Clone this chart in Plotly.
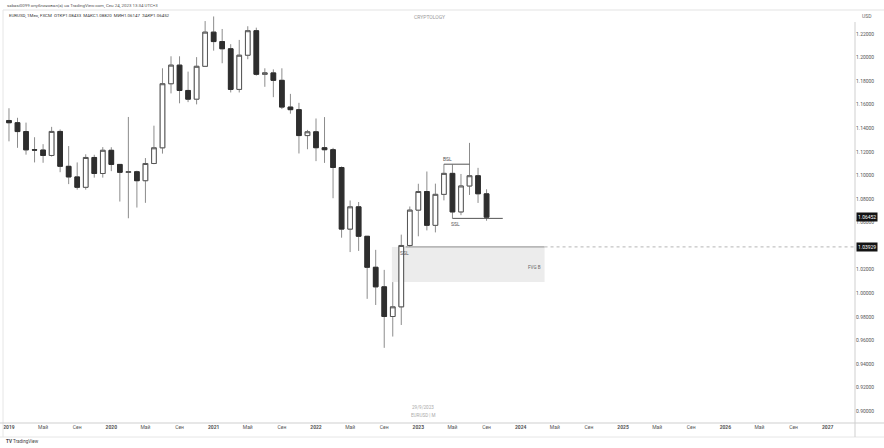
import plotly.graph_objects as go

# ---------------- data ----------------
months = [f"{y}-{m:02d}" for y in range(2019, 2024) for m in range(1, 13)][:57]

opens = [1.1466, 1.1447, 1.1372, 1.1217, 1.1215, 1.1169, 1.1373, 1.1077, 1.0987, 1.0899, 1.1152, 1.1016,
         1.1213, 1.1093, 1.1026, 1.1031, 1.0955, 1.1101, 1.1234, 1.1778, 1.1936, 1.1721, 1.1647, 1.1926,
         1.2216, 1.2136, 1.2075, 1.1730, 1.2020, 1.2228, 1.1858, 1.1870, 1.1807, 1.1580, 1.1558, 1.1338,
         1.1370, 1.1235, 1.1218, 1.1067, 1.0544, 1.0733, 1.0483, 1.0220, 1.0054, 0.9802, 0.9884, 1.0405,
         1.0705, 1.0863, 1.0576, 1.0839, 1.1017, 1.0690, 1.0910, 1.0997, 1.08433]
highs = [1.1570, 1.1489, 1.1448, 1.1324, 1.1265, 1.1412, 1.1390, 1.1249, 1.1110, 1.1179, 1.1175, 1.1240,
         1.1239, 1.1096, 1.1496, 1.1040, 1.1147, 1.1422, 1.1909, 1.2011, 1.2011, 1.1881, 1.2004, 1.2310,
         1.2349, 1.2243, 1.2114, 1.2150, 1.2266, 1.2254, 1.1909, 1.1900, 1.1909, 1.1692, 1.1616, 1.1386,
         1.1483, 1.1495, 1.1234, 1.1076, 1.0787, 1.0774, 1.0486, 1.0368, 1.0198, 1.0094, 1.0497, 1.0736,
         1.0929, 1.1033, 1.0930, 1.1095, 1.1092, 1.1012, 1.1276, 1.1064, 1.08820]
lows = [1.1289, 1.1234, 1.1176, 1.1110, 1.1107, 1.1160, 1.1027, 1.0926, 1.0879, 1.0879, 1.0981, 1.0981,
        1.1036, 1.0778, 1.0636, 1.0727, 1.0767, 1.1095, 1.1185, 1.1696, 1.1612, 1.1622, 1.1603, 1.1924,
        1.2059, 1.1952, 1.1704, 1.1704, 1.1986, 1.1847, 1.1752, 1.1664, 1.1563, 1.1524, 1.1186, 1.1222,
        1.1121, 1.1106, 1.0806, 1.0471, 1.0349, 1.0359, 0.9952, 0.9900, 0.9536, 0.9632, 0.9730, 1.0393,
        1.0483, 1.0533, 1.0516, 1.0788, 1.0635, 1.0662, 1.0834, 1.0766, 1.06147]
closes = [1.1447, 1.1372, 1.1217, 1.1215, 1.1169, 1.1373, 1.1077, 1.0987, 1.0899, 1.1152, 1.1016, 1.1213,
          1.1093, 1.1026, 1.1031, 1.0955, 1.1101, 1.1234, 1.1778, 1.1936, 1.1721, 1.1647, 1.1926, 1.2216,
          1.2136, 1.2075, 1.1730, 1.2020, 1.2228, 1.1858, 1.1870, 1.1807, 1.1580, 1.1558, 1.1338, 1.1370,
          1.1235, 1.1218, 1.1067, 1.0544, 1.0733, 1.0483, 1.0220, 1.0054, 0.9802, 0.9884, 1.0405, 1.0705,
          1.0863, 1.0576, 1.0839, 1.1017, 1.0690, 1.0910, 1.0997, 1.0844, 1.06452]

price_ticks = [0.90 + 0.02 * k for k in range(17)]
month_tick_names = {0: "year", 4: "Май", 8: "Сен"}
tick_years = list(range(2019, 2028))

fvg_top_price = 1.03929
last_price = 1.06452

# ---------------- figure ----------------
x = list(range(len(months)))
body_hi = [max(o, c) for o, c in zip(opens, closes)]
body_lo = [min(o, c) for o, c in zip(opens, closes)]

fig = go.Figure()
# wicks
fig.add_trace(go.Candlestick(
    x=x, open=opens, high=highs, low=lows, close=closes,
    increasing=dict(line=dict(color="#8c8c8c", width=1), fillcolor="#8c8c8c"),
    decreasing=dict(line=dict(color="#8c8c8c", width=1), fillcolor="#8c8c8c"),
    whiskerwidth=0, showlegend=False, hoverinfo="skip"))
# bodies
fig.add_trace(go.Candlestick(
    x=x, open=opens, high=body_hi, low=body_lo, close=closes,
    increasing=dict(line=dict(color="#555555", width=1), fillcolor="#ffffff"),
    decreasing=dict(line=dict(color="#2e2e2e", width=1), fillcolor="#2e2e2e"),
    whiskerwidth=0, showlegend=False, name="EURUSD"))

# ticks
tickvals, ticktext = [], []
for i in range(0, 97, 4):
    yr = tick_years[0] + i // 12
    kind = month_tick_names[i % 12]
    tickvals.append(i)
    ticktext.append(f"<b>{yr}</b>" if kind == "year" else kind)

# price tick labels hidden behind the price tags (as in the reference)
price_ticktext = ["" if abs(v - fvg_top_price) < 0.005 else f"{v:.5f}" for v in price_ticks]

L, R, T, B = 3, 855, 10, 423
def px(xp):
    return (xp - L) / (R - L)
def py(yp):
    return (B - yp) / (B - T)

i_oct22 = months.index("2022-10")
i_nov22 = months.index("2022-11")
i_dec22 = months.index("2022-12")
i_apr23 = months.index("2023-04")
i_may23 = months.index("2023-05")
i_jul23 = months.index("2023-07")

fvg_bottom = highs[i_oct22]
fvg_top = lows[i_dec22]
fvg_x0 = i_oct22 - 0.1
fvg_x1 = 62.8
ssl_x1 = 57.9
x_end = 99.2

shapes = [
    # FVG box
    dict(type="rect", xref="x", yref="y", x0=fvg_x0, x1=fvg_x1, y0=fvg_bottom, y1=fvg_top,
         fillcolor="#ececec", line=dict(width=0), layer="below"),
    dict(type="line", xref="x", yref="y", x0=i_nov22 + 0.5, x1=fvg_x1, y0=fvg_top_price, y1=fvg_top_price,
         line=dict(color="#8a8a8a", width=1)),
    dict(type="line", xref="x", yref="y", x0=fvg_x1, x1=x_end, y0=fvg_top_price, y1=fvg_top_price,
         line=dict(color="#b5b5b5", width=1, dash="dot")),
    # BSL
    dict(type="line", xref="x", yref="y", x0=i_apr23, x1=i_jul23, y0=highs[i_apr23], y1=highs[i_apr23],
         line=dict(color="#555555", width=1)),
    # SSL
    dict(type="line", xref="x", yref="y", x0=i_may23, x1=ssl_x1, y0=lows[i_may23], y1=lows[i_may23],
         line=dict(color="#555555", width=1)),
    # frame lines
    dict(type="line", xref="paper", yref="paper", x0=0, x1=px(884), y0=py(10), y1=py(10),
         line=dict(color="#e3e3e3", width=1)),
    dict(type="line", xref="paper", yref="paper", x0=0, x1=0, y0=py(10), y1=py(437),
         line=dict(color="#e6e6e6", width=1)),
    dict(type="line", xref="paper", yref="paper", x0=px(0), x1=px(884), y0=py(423), y1=py(423),
         line=dict(color="#cfcfcf", width=1)),
    dict(type="line", xref="paper", yref="paper", x0=px(0), x1=px(884), y0=py(437), y1=py(437),
         line=dict(color="#e6e6e6", width=1)),
    dict(type="line", xref="paper", yref="paper", x0=1, x1=1, y0=py(22), y1=py(437),
         line=dict(color="#cfcfcf", width=1)),
]

FONT = "Roboto, Arial, sans-serif"
ann = []
def txt(text, xp, yp, size=4.6, color="#444", xanchor="left", **kw):
    ann.append(dict(text=text, xref="paper", yref="paper", x=px(xp), y=py(yp), xanchor=xanchor,
                    yanchor="middle", showarrow=False, font=dict(size=size, color=color, family=FONT), **kw))

txt("sabasi0099 опубликовал(а) на TradingView.com, Сен 24, 2023 13:34 UTC+3", 5, 5, size=4.4, color="#555")
txt("EURUSD, 1Мес, FXCM  ОТКР1.08433  МАКС1.08820  МИН1.06147  ЗАКР1.06452", 7, 15, size=4.4, color="#333")
txt("CRYPTOLOGY", 430, 17, size=5, color="#9a9a9a", xanchor="center")
txt("USD", 860, 16, size=5, color="#666")
txt("29/9/2023", 423, 407, size=4.6, color="#aaaaaa", xanchor="center")
txt("EURUSD | M", 423, 415, size=4.6, color="#aaaaaa", xanchor="center")
txt("<b>TV</b> TradingView", 4, 441, size=4.6, color="#444")

def lab(text, xv, yv, yanchor, yshift):
    ann.append(dict(text=text, xref="x", yref="y", x=xv, y=yv, xanchor="center", yanchor=yanchor,
                    yshift=yshift, showarrow=False, font=dict(size=5, color="#555", family=FONT)))

lab("BSL", i_apr23 + 0.4, highs[i_apr23], "bottom", 0)
lab("SSL", i_may23 + 0.4, lows[i_may23], "top", -1)
lab("SSL", i_dec22 - 0.6, fvg_top_price, "top", -1)
ann.append(dict(text="FVG B", xref="x", yref="y", x=fvg_x1 - 0.2, y=(fvg_top + fvg_bottom) / 2,
                xanchor="right", yanchor="middle", yshift=-3, showarrow=False,
                font=dict(size=4.6, color="#666", family=FONT)))

for pv in (last_price, fvg_top_price):
    ann.append(dict(text=f"{pv:.5f}", xref="paper", yref="y", x=1.0, y=pv, xanchor="left",
                    yanchor="middle", xshift=1, showarrow=False, bgcolor="#131313", borderpad=1,
                    font=dict(size=5, color="#ffffff", family=FONT)))

fig.update_layout(
    width=884, height=448,
    margin=dict(l=L, r=884 - R, t=T, b=448 - B),
    paper_bgcolor="#ffffff", plot_bgcolor="#ffffff",
    showlegend=False, boxgap=0.22,
    shapes=shapes, annotations=ann,
    font=dict(family=FONT),
    xaxis=dict(range=[-0.7, x_end], tickvals=tickvals, ticktext=ticktext, showgrid=False,
               zeroline=False, showline=False, ticks="", rangeslider=dict(visible=False),
               tickfont=dict(size=5, color="#555"), fixedrange=True),
    yaxis=dict(side="right", range=[0.8898, 1.2404], tickvals=price_ticks,
               ticktext=price_ticktext, showgrid=False, zeroline=False,
               showline=False, ticks="", tickfont=dict(size=5, color="#555")),
)

fig.write_html("out.html", config={"displayModeBar": False},
               post_script="document.body.style.margin='0px';document.body.style.overflow='hidden';")
